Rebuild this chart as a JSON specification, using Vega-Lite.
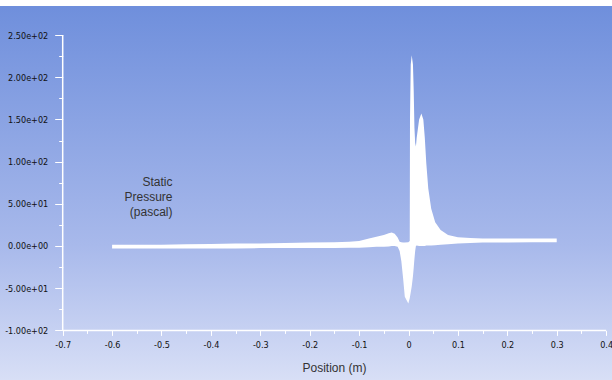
{
  "$schema": "https://vega.github.io/schema/vega-lite/v6.json",
  "width": 612,
  "height": 374,
  "autosize": {"type": "none"},
  "padding": {"top": 6, "left": 0, "right": 0, "bottom": 0},
  "background": "white",
  "view": {
    "stroke": null,
    "fill": {
      "gradient": "linear",
      "x1": 0, "y1": 0, "x2": 0, "y2": 1,
      "stops": [
        {"offset": 0, "color": "#6f8fdc"},
        {"offset": 0.64, "color": "#a8b9eb"},
        {"offset": 1, "color": "#d8dff6"}
      ]
    }
  },
  "layer": [
    {
      "data": {
        "values": [
          {"x": -0.6, "lo": -3, "hi": 1.5},
          {"x": -0.55, "lo": -3, "hi": 1.5},
          {"x": -0.5, "lo": -3, "hi": 1.5},
          {"x": -0.45, "lo": -3, "hi": 2},
          {"x": -0.4, "lo": -3, "hi": 2.5},
          {"x": -0.35, "lo": -3, "hi": 3},
          {"x": -0.3, "lo": -2.5, "hi": 3},
          {"x": -0.25, "lo": -2.5, "hi": 3.5},
          {"x": -0.2, "lo": -2.5, "hi": 4},
          {"x": -0.15, "lo": -2.5, "hi": 4.5},
          {"x": -0.12, "lo": -2, "hi": 5},
          {"x": -0.1, "lo": -2, "hi": 6},
          {"x": -0.08, "lo": -1.5, "hi": 9},
          {"x": -0.065, "lo": -1, "hi": 11},
          {"x": -0.05, "lo": -1, "hi": 13},
          {"x": -0.04, "lo": -0.5, "hi": 15},
          {"x": -0.034, "lo": 0, "hi": 16},
          {"x": -0.028, "lo": 0, "hi": 14.5},
          {"x": -0.022, "lo": -1, "hi": 10},
          {"x": -0.018, "lo": -6, "hi": 5},
          {"x": -0.0145, "lo": -18, "hi": 4.5},
          {"x": -0.011, "lo": -38, "hi": 4},
          {"x": -0.0075, "lo": -60, "hi": 4},
          {"x": -0.0004, "lo": -68, "hi": 4.5},
          {"x": 0.0025, "lo": -62, "hi": 6},
          {"x": 0.003, "lo": -60, "hi": 150},
          {"x": 0.0045, "lo": -55, "hi": 215},
          {"x": 0.0065, "lo": -48, "hi": 226},
          {"x": 0.009, "lo": -36, "hi": 215},
          {"x": 0.0105, "lo": -26, "hi": 185},
          {"x": 0.012, "lo": -15, "hi": 140},
          {"x": 0.0135, "lo": -6, "hi": 122},
          {"x": 0.015, "lo": 0, "hi": 118},
          {"x": 0.0165, "lo": 0.5, "hi": 128},
          {"x": 0.0215, "lo": 0, "hi": 150},
          {"x": 0.026, "lo": 0, "hi": 157},
          {"x": 0.03, "lo": 0, "hi": 150},
          {"x": 0.033, "lo": 0, "hi": 128},
          {"x": 0.036, "lo": 0.5, "hi": 98},
          {"x": 0.04, "lo": 0.5, "hi": 68},
          {"x": 0.046, "lo": 0.5, "hi": 44},
          {"x": 0.054, "lo": 1, "hi": 28},
          {"x": 0.065, "lo": 1.5, "hi": 19},
          {"x": 0.08, "lo": 2, "hi": 13},
          {"x": 0.1, "lo": 3, "hi": 10.5},
          {"x": 0.125, "lo": 3.5, "hi": 9.5},
          {"x": 0.15, "lo": 4, "hi": 9},
          {"x": 0.2, "lo": 4, "hi": 9},
          {"x": 0.25, "lo": 4.5, "hi": 9},
          {"x": 0.3, "lo": 4.5, "hi": 9}
        ]
      },
      "mark": {"type": "area", "color": "white", "interpolate": "linear", "opacity": 1},
      "encoding": {
        "x": {
          "field": "x", "type": "quantitative",
          "scale": {"domain": [-0.8269, 0.4119], "nice": false, "zero": false},
          "axis": {
            "orient": "bottom", "offset": -49.6,
            "values": [-0.7, -0.6, -0.5, -0.4, -0.3, -0.2, -0.1, 0, 0.1, 0.2, 0.3, 0.4],
            "domain": false, "grid": false,
            "tickColor": "white", "tickSize": 5, "tickWidth": 1,
            "labelFont": "'DejaVu Sans Condensed', 'Liberation Sans', sans-serif", "labelFontSize": 9, "labelColor": "#111",
            "labelPadding": 5, "labelFlush": false, "labelOverlap": false,
            "labelExpr": "'' + datum.value",
            "title": "Position (m)", "titleX": 334, "titleY": 36.6, "titleBaseline": "middle",
            "titleFont": "Liberation Sans", "titleFontSize": 12, "titleFontWeight": "normal", "titleColor": "#333"
          }
        },
        "y": {
          "field": "hi", "type": "quantitative",
          "scale": {"domain": [-158.8, 284.4], "nice": false, "zero": false},
          "axis": {
            "orient": "left", "offset": -62.7,
            "values": [-100, -50, 0, 50, 100, 150, 200, 250],
            "domain": false, "grid": false,
            "tickColor": "white", "tickSize": 8, "tickWidth": 1,
            "labelFont": "'DejaVu Sans Condensed', 'Liberation Sans', sans-serif", "labelFontSize": 9, "labelColor": "#111",
            "labelPadding": 7, "labelOverlap": false,
            "labelExpr": "replace(replace(replace(format(datum.value, '.2e'), 'e+', 'e+0'), 'e-', 'e-0'), '\u2212', '-')",
            "title": ["Static", "Pressure", "(pascal)"],
            "titleAngle": 0, "titleAlign": "right", "titleBaseline": "top",
            "titleX": 109.3, "titleY": 170, "titleLineHeight": 15,
            "titleFont": "Liberation Sans", "titleFontSize": 12, "titleFontWeight": "normal", "titleColor": "#333"
          }
        },
        "y2": {"field": "lo"}
      }
    },
    {
      "data": {"values": [{"x": -0.7, "y": -100, "y2": 250}]},
      "mark": {"type": "rule", "color": "white", "strokeWidth": 1.5},
      "encoding": {
        "x": {
          "field": "x", "type": "quantitative",
          "scale": {"domain": [-0.8269, 0.4119], "nice": false, "zero": false},
          "axis": {
            "orient": "bottom", "offset": -49.6,
            "values": [-0.65, -0.55, -0.45, -0.35, -0.25, -0.15, -0.05, 0.05, 0.15, 0.25, 0.35],
            "domain": false, "grid": false, "labels": false, "title": null,
            "tickColor": "white", "tickSize": 3, "tickWidth": 1
          }
        },
        "y": {
          "field": "y", "type": "quantitative",
          "scale": {"domain": [-158.8, 284.4], "nice": false, "zero": false},
          "axis": {
            "orient": "left", "offset": -62.7,
            "values": [-75, -25, 25, 75, 125, 175, 225],
            "domain": false, "grid": false, "labels": false, "title": null,
            "tickColor": "white", "tickSize": 4, "tickWidth": 1
          }
        },
        "y2": {"field": "y2"}
      }
    },
    {
      "data": {"values": [{"x": -0.7, "x2": 0.4, "y": -100}]},
      "mark": {"type": "rule", "color": "white", "strokeWidth": 1.5},
      "encoding": {
        "x": {
          "field": "x", "type": "quantitative",
          "scale": {"domain": [-0.8269, 0.4119], "nice": false, "zero": false},
          "axis": null
        },
        "x2": {"field": "x2"},
        "y": {
          "field": "y", "type": "quantitative",
          "scale": {"domain": [-158.8, 284.4], "nice": false, "zero": false},
          "axis": null
        }
      }
    }
  ],
  "resolve": {"axis": {"x": "independent", "y": "independent"}}
}
